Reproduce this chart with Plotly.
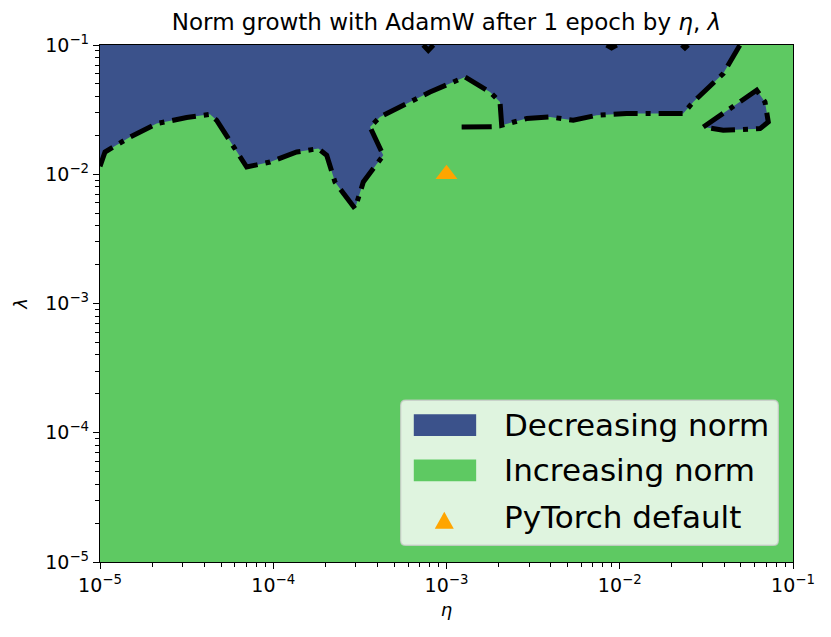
import plotly.graph_objects as go

# contour boundary between the two regions (eta, lambda)
eta_boundary = [1.0e-5, 1.069e-5, 1.49e-5, 2.125e-5, 3.162e-5, 4.313e-5, 4.716e-5, 7.025e-5,
                9.577e-5, 1.366e-4, 1.82e-4, 2.035e-4, 2.272e-4, 2.964e-4, 3.31e-4, 4.316e-4,
                3.618e-4, 4.131e-4, 5.893e-4, 8.03e-4, 1.279e-3, 1.783e-3, 2.036e-3, 2.082e-3,
                2.904e-3, 3.958e-3, 5.393e-3, 7.362e-3, 1.095e-2, 2.324e-2, 2.655e-2, 3.955e-2,
                4.944e-2]
lam_boundary = [1.152e-2, 1.486e-2, 1.942e-2, 2.465e-2, 2.744e-2, 2.91e-2, 2.615e-2, 1.137e-2,
                1.244e-2, 1.486e-2, 1.579e-2, 1.401e-2, 8.71e-3, 5.42e-3, 8.71e-3, 1.401e-2,
                2.32e-2, 2.773e-2, 3.52e-2, 4.328e-2, 5.653e-2, 4.328e-2, 3.622e-2, 2.392e-2,
                2.695e-2, 2.773e-2, 2.615e-2, 2.858e-2, 2.945e-2, 2.945e-2, 3.622e-2, 6.008e-2,
                0.1]

# small blue island on the right
eta_island = [3.037e-2, 4.328e-2, 6.173e-2, 6.893e-2, 7.2e-2, 6.451e-2, 3.955e-2, 3.037e-2]
lam_island = [2.32e-2, 3.22e-2, 4.461e-2, 3.622e-2, 2.537e-2, 2.254e-2, 2.188e-2, 2.32e-2]

# tiny contour bits
eta_bits = [1.223e-3, 1.824e-3, None, 7.34e-4, 7.85e-4, 8.4e-4, None,
            8.4e-3, 8.97e-3, 9.6e-3, None, 2.28e-2, 2.379e-2, 2.48e-2]
lam_bits = [2.32e-2, 2.33e-2, None, 0.1, 0.091, 0.1, None,
            0.1, 0.095, 0.1, None, 0.1, 0.095, 0.1]

eta_default = [1e-3]
lam_default = [1e-2]

tick_vals = [1e-5, 1e-4, 1e-3, 1e-2, 1e-1]
tick_text = ["10<sup>−5</sup>", "10<sup>−4</sup>", "10<sup>−3</sup>", "10<sup>−2</sup>", "10<sup>−1</sup>"]
minor_vals = [m * 10.0 ** e for e in range(-5, -1) for m in range(2, 10)]

legend_labels = ["Decreasing norm", "Increasing norm", "PyTorch default"]

BLUE = "#3b528b"
GREEN = "#5ec962"
ORANGE = "#ffa500"
FONT = "DejaVu Sans"

fig = go.Figure()

# blue region: top-left corner, then the boundary up to the top edge
fig.add_trace(go.Scatter(
    x=[1e-5] + eta_boundary + [1e-5], y=[0.1] + lam_boundary + [0.1],
    fill="toself", fillcolor=BLUE, mode="lines", line=dict(width=0), hoverinfo="skip"))
fig.add_trace(go.Scatter(
    x=eta_island, y=lam_island,
    fill="toself", fillcolor=BLUE, mode="lines", line=dict(width=0), hoverinfo="skip"))

dashdot = "24px,8px,5px,8px"
for xs, ys in [(eta_boundary, lam_boundary), (eta_island, lam_island)]:
    fig.add_trace(go.Scatter(x=xs, y=ys, mode="lines",
                             line=dict(color="black", width=5, dash=dashdot)))
fig.add_trace(go.Scatter(x=eta_bits, y=lam_bits, mode="lines",
                         line=dict(color="black", width=5), connectgaps=False))

fig.add_trace(go.Scatter(x=eta_default, y=lam_default, mode="markers",
                         marker=dict(symbol="triangle-up", size=19, color=ORANGE)))

axis_common = dict(
    type="log", tickvals=tick_vals, ticktext=tick_text,
    ticks="outside", ticklen=6, tickwidth=1.3, tickcolor="black",
    showline=True, linecolor="black", linewidth=1.4, mirror=True,
    showgrid=False, zeroline=False,
    tickfont=dict(family=FONT, size=19, color="black"),
    minor=dict(tickvals=minor_vals, ticks="outside", ticklen=3.5, tickwidth=1,
               tickcolor="black", showgrid=False),
)

fig.update_layout(
    width=831, height=637,
    margin=dict(l=92, r=46, t=37, b=83),
    paper_bgcolor="white", plot_bgcolor=GREEN,
    showlegend=False,
    title=dict(text="Norm growth with AdamW after 1 epoch by <i>η</i>, <i>λ</i>",
               x=0.5, xref="paper", xanchor="center",
               y=1 - 14 / 637, yanchor="middle",
               font=dict(family=FONT, size=23, color="black")),
    xaxis=dict(axis_common, range=[-5, -1],
               title=dict(text="<i>η</i>", standoff=8,
                          font=dict(family=FONT, size=18, color="black"))),
    yaxis=dict(axis_common, range=[-5, -1],
               title=dict(text="<i>λ</i>", standoff=12,
                          font=dict(family=FONT, size=18, color="black"))),
)


def rounded_box(x0, y0, x1, y1, rx, ry):
    return (f"M {x0 + rx},{y0} L {x1 - rx},{y0} Q {x1},{y0} {x1},{y0 + ry} "
            f"L {x1},{y1 - ry} Q {x1},{y1} {x1 - rx},{y1} "
            f"L {x0 + rx},{y1} Q {x0},{y1} {x0},{y1 - ry} "
            f"L {x0},{y0 + ry} Q {x0},{y0} {x0 + rx},{y0} Z")


# hand-built legend, matplotlib style
fig.add_shape(type="path", xref="paper", yref="paper",
              path=rounded_box(0.4339, 0.0323, 0.9788, 0.3128, 0.0075, 0.01),
              fillcolor="rgba(255,255,255,0.8)",
              line=dict(color="rgba(204,204,204,0.8)", width=1.4))
fig.add_shape(type="rect", xref="paper", yref="paper",
              x0=0.4528, x1=0.5428, y0=0.2437, y1=0.2857,
              fillcolor=BLUE, line=dict(width=0))
fig.add_shape(type="rect", xref="paper", yref="paper",
              x0=0.4528, x1=0.5428, y0=0.1561, y1=0.1981,
              fillcolor=GREEN, line=dict(width=0))
fig.add_shape(type="path", xref="paper", yref="paper",
              path="M 0.4831,0.0642 L 0.5105,0.0642 L 0.4968,0.0971 Z",
              fillcolor=ORANGE, line=dict(width=0))
for label, ypos in zip(legend_labels, [0.2644, 0.1774, 0.0870]):
    fig.add_annotation(text=label, xref="paper", yref="paper", x=0.5797, y=ypos,
                       xanchor="left", yanchor="middle", showarrow=False,
                       font=dict(family=FONT, size=31, color="black"))

fig.write_html("out.html")
